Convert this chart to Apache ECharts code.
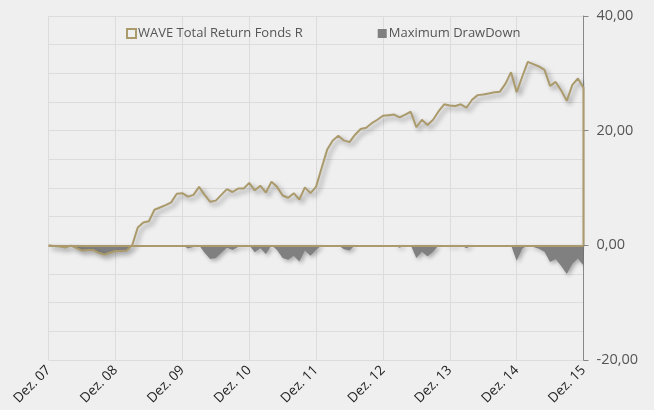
<!DOCTYPE html>
<html>
<head>
<meta charset="utf-8">
<script src="https://cdn.jsdelivr.net/npm/echarts@6/dist/echarts.min.js"></script>
<style>
  html, body { margin: 0; padding: 0; background: #efefef; }
  #chart { width: 654px; height: 410px; }
</style>
</head>
<body>
<div id="chart"></div>
<script>
// monthly values, Dez. 07 .. Dez. 15 (97 months)
const fundValues = [
  0, -0.1, -0.2, -0.4, -0.05, -0.5, -0.9, -0.8, -0.8, -1.3, -1.6, -1.3,
  -1.0, -1.0, -0.9, 0, 3.1, 4.0, 4.2, 6.2, 6.6, 7.0, 7.5, 9.0,
  9.1, 8.5, 8.8, 10.2, 8.8, 7.6, 7.8, 8.8, 9.8, 9.3, 9.9, 9.9,
  10.9, 9.6, 10.4, 9.2, 11.1, 10.2, 8.7, 8.3, 9.1, 8.0, 10.1, 9.1,
  10.2, 13.5, 16.7, 18.3, 19.1, 18.3, 18.0, 19.3, 20.3, 20.5, 21.3, 21.9,
  22.6, 22.7, 22.8, 22.3, 22.8, 23.3, 20.6, 21.9, 21.0, 21.9, 23.4, 24.6,
  24.4, 24.3, 24.6, 24.0, 25.4, 26.2, 26.3, 26.5, 26.7, 26.8, 28.2, 30.2,
  26.7, 29.4, 32.0, 31.6, 31.2, 30.6, 27.8, 28.5, 27.0, 25.2, 28.0, 29.1,
  27.5
];
const drawdownValues = [
  0, -0.1, -0.2, -0.4, -0.05, -0.5, -0.9, -0.8, -0.8, -1.3, -1.6, -1.3,
  -1.0, -1.0, -0.9, 0, 0, 0, 0, 0, 0, 0, 0, 0,
  0, -0.55, -0.3, 0, -1.3, -2.4, -2.2, -1.3, -0.4, -0.8, -0.3, -0.3,
  0, -1.2, -0.5, -1.5, 0, -0.8, -2.2, -2.5, -1.8, -2.8, -0.9, -1.8,
  -0.8, 0, 0, 0, 0, -0.7, -0.9, 0, 0, 0, 0, 0,
  0, 0, 0, -0.4, 0, 0, -2.2, -1.1, -1.9, -1.1, 0, 0,
  -0.2, -0.25, 0, -0.5, 0, 0, 0, 0, 0, 0, 0, 0,
  -2.7, -0.6, 0, -0.3, -0.6, -1.1, -2.9, -2.4, -3.6, -5.0, -3.2, -2.3,
  -3.5
];
const xTickLabels = ['Dez. 07', 'Dez. 08', 'Dez. 09', 'Dez. 10', 'Dez. 11', 'Dez. 12', 'Dez. 13', 'Dez. 14', 'Dez. 15'];
const seriesNames = ['WAVE Total Return Fonds R', 'Maximum DrawDown'];

const tan = '#ab9b6c';
const gray = '#808080';
const lastIdx = fundValues.length - 1;

// last point drops back to zero
const fundData = fundValues.map((v, i) => [i, v]).concat([[lastIdx, 0]]);
const ddData = drawdownValues.map((v, i) => [i, v]);

const chart = echarts.init(document.getElementById('chart'));
chart.setOption({
  backgroundColor: '#efefef',
  animation: false,
  textStyle: { fontFamily: 'Open Sans' },
  grid: { left: 48.6, right: 70.5, top: 16, bottom: 50 },
  legend: {
    left: 121, top: 22,
    itemGap: 75, itemWidth: 9, itemHeight: 9,
    textStyle: { color: '#555', fontSize: 13, padding: [0, 0, 0, -3] },
    data: [
      { name: seriesNames[0], icon: 'rect', itemStyle: { color: 'transparent', borderColor: tan, borderWidth: 2 } },
      { name: seriesNames[1], icon: 'rect', itemStyle: { color: gray } }
    ]
  },
  xAxis: {
    type: 'value', min: 0, max: lastIdx, interval: 12,
    axisLine: { show: false },
    axisTick: { show: false },
    splitLine: { show: true, lineStyle: { color: '#dcdcdc', width: 1 } },
    axisLabel: {
      rotate: 45, margin: 8, color: '#222', fontSize: 13.5,
      formatter: v => xTickLabels[Math.round(v / 12)] || ''
    }
  },
  yAxis: {
    type: 'value', position: 'right', min: -20, max: 40, interval: 20,
    axisLine: { show: true, onZero: false, lineStyle: { color: '#888' } },
    axisTick: { show: true, length: 5, lineStyle: { color: '#888' } },
    minorTick: { show: false, splitNumber: 4 },
    minorSplitLine: { show: true, lineStyle: { color: '#dcdcdc' } },
    splitLine: { lineStyle: { color: '#dcdcdc' } },
    axisLabel: {
      margin: 13, color: '#555', fontSize: 14.5,
      formatter: v => v.toFixed(2).replace('.', ',')
    }
  },
  series: [
    {
      name: seriesNames[1], type: 'line', data: ddData,
      symbol: 'none', z: 2,
      itemStyle: { color: gray },
      lineStyle: { width: 0 },
      areaStyle: {
        color: gray, opacity: 1,
        shadowColor: 'rgba(0,0,0,0.3)', shadowBlur: 4, shadowOffsetX: 2, shadowOffsetY: 2
      }
    },
    {
      name: seriesNames[0], type: 'line', data: fundData,
      symbol: 'none', z: 3,
      itemStyle: { color: tan },
      lineStyle: {
        color: tan, width: 2,
        shadowColor: 'rgba(0,0,0,0.4)', shadowBlur: 5, shadowOffsetX: 3, shadowOffsetY: 3
      },
      markLine: {
        silent: true, symbol: 'none', label: { show: false },
        lineStyle: { color: tan, width: 2, type: 'solid' },
        data: [{ yAxis: 0 }]
      }
    }
  ]
});
</script>
</body>
</html>
